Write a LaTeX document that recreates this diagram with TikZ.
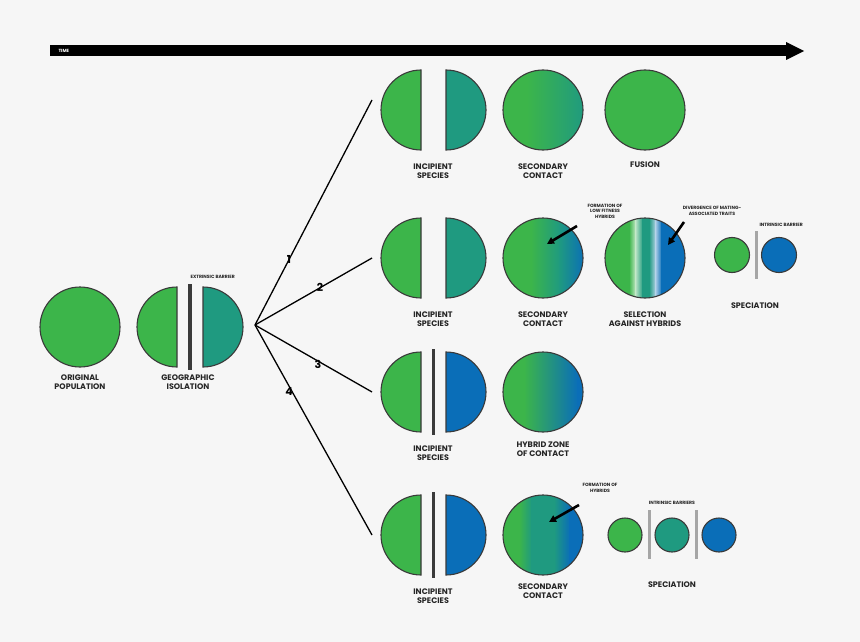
\documentclass[tikz,border=0pt]{standalone}
\usepackage{fontspec}
\setmainfont{Poppins}
\usetikzlibrary{arrows.meta}
\definecolor{gr}{HTML}{3CB54A}
\definecolor{te}{HTML}{1F9A80}
\definecolor{bl}{HTML}{0A6EB8}
\definecolor{ol}{HTML}{3A3A3A}
\definecolor{bg}{HTML}{F6F6F6}
\begin{document}
\begin{tikzpicture}[x=1pt,y=-1pt,
 lab/.style={font=\bfseries\fontsize{8}{9.5}\selectfont,align=center,text=black!85},
 sm/.style={font=\bfseries\fontsize{4.6}{5.6}\selectfont,align=center,text=black!85},
 num/.style={font=\bfseries\fontsize{11}{12}\selectfont},
 ring/.style={draw=ol,line width=1.1pt},
 bar/.style={line width=3.5pt,draw=ol},
 ibar/.style={line width=3pt,draw=black!35},
 br/.style={line width=1.3pt},
 pt/.style={-{Triangle[length=7pt,width=7pt]},line width=2.6pt}]
\fill[bg] (0,0) rectangle (860,642);
\useasboundingbox (0,0) rectangle (860,642);
% time arrow
\fill[black] (50,45) rectangle (790,56);
\fill[black] (786,42) -- (804,51) -- (786,60) -- cycle;
\node[font=\bfseries\fontsize{4.5}{5}\selectfont,text=white,anchor=west] (time) at (55,50.5) {TIME};
% original
\node[circle,minimum size=80pt,inner sep=0,fill=gr,ring] (orig) at (80,327) {};
\node[lab] (origl) at (80,382) {ORIGINAL\\POPULATION};
% geographic isolation
\draw[ring,fill=gr] (177,287) arc[start angle=-90,end angle=-270,radius=40] -- cycle;
\draw[ring,fill=te] (203,287) arc[start angle=-90,end angle=90,radius=40] -- cycle;
\draw[bar] (190,284) -- (190,370);
\node[sm,anchor=west] (extr) at (187,277) {EXTRINSIC BARRIER};
\node[lab] (geol) at (188,382) {GEOGRAPHIC\\ISOLATION};
% branches
\coordinate (b) at (255,325);
\coordinate (e1) at (372,100);
\coordinate (e2) at (372,258);
\coordinate (e3) at (372,392);
\coordinate (e4) at (372,535);
\draw[br] (b) -- (e1); \draw[br] (b) -- (e2); \draw[br] (b) -- (e3); \draw[br] (b) -- (e4);
\node[num] (n1) at (289,259) {1};
\node[num] (n2) at (320,287) {2};
\node[num] (n3) at (318,364) {3};
\node[num] (n4) at (289,392) {4};
% incipient species rows
\foreach \y/\c/\hb in {110/te/0,258/te/0,392/bl/1,535/bl/1}{
 \draw[ring,fill=gr] (421,\y-40) arc[start angle=-90,end angle=-270,radius=40] -- cycle;
 \draw[ring,fill=\c] (446,\y-40) arc[start angle=-90,end angle=90,radius=40] -- cycle;
 \ifnum\hb=1 \draw[bar] (433.5,\y-43) -- (433.5,\y+43); \fi
 \node[lab] at (433,\y+61) {INCIPIENT\\SPECIES};
}
% row 1
\begin{scope}\clip (543,110) circle (40);
 \fill[gr] (500,65) rectangle (528,155);
 \shade[left color=gr,right color=te] (527,65) rectangle (585,155);
\end{scope}
\draw[ring] (543,110) circle (40);
\node[lab] (sc1) at (543,171) {SECONDARY\\CONTACT};
\node[circle,minimum size=80pt,inner sep=0,fill=gr,ring] (fus) at (645,110) {};
\node[lab] (fusl) at (645,165) {FUSION};
% row 2
\begin{scope}\clip (543,258) circle (40);
 \fill[gr] (500,215) rectangle (532,300);
 \shade[left color=gr,right color=te] (531,215) rectangle (560,300);
 \shade[left color=te,right color=bl] (559,215) rectangle (585,300);
\end{scope}
\draw[ring] (543,258) circle (40);
\node[lab] (sc2) at (543,319) {SECONDARY\\CONTACT};
\begin{scope}\clip (645,258) circle (40);
 \fill[gr] (600,215) rectangle (630,300);
 \shade[left color=gr,right color=white!70!gr] (629,215) rectangle (636,300);
 \shade[left color=white!70!gr,right color=te] (635,215) rectangle (643,300);
 \fill[te] (642,215) rectangle (650,300);
 \shade[left color=te,right color=white!70!bl] (649,215) rectangle (656,300);
 \shade[left color=white!70!bl,right color=bl] (655,215) rectangle (662,300);
 \fill[bl] (661,215) rectangle (690,300);
\end{scope}
\draw[ring] (645,258) circle (40);
\node[lab] (sel) at (645,319) {SELECTION\\AGAINST HYBRIDS};
\node[sm] (lf) at (605,211) {FORMATION OF\\LOW FITNESS\\HYBRIDS};
\coordinate (a1) at (547,244);
\draw[pt] (577,226) -- (a1);
\node[sm] (dv) at (712,211) {DIVERGENCE OF MATING-\\ASSOCIATED TRAITS};
\coordinate (a2) at (668,245);
\draw[pt] (684,222) -- (a2);
\node[circle,minimum size=35pt,inner sep=0,fill=gr,ring] (s2g) at (732,255) {};
\node[circle,minimum size=35pt,inner sep=0,fill=bl,ring] (s2b) at (779,255) {};
\draw[ibar] (756,231) -- (756,279);
\node[sm,anchor=west] (ib) at (756,225) {INTRINSIC BARRIER};
\node[lab] (sp2) at (755,306) {SPECIATION};
% row 3
\begin{scope}\clip (543,392) circle (40);
 \fill[gr] (500,350) rectangle (525,435);
 \shade[left color=gr,right color=bl] (524,350) rectangle (578,435);
 \fill[bl] (577,350) rectangle (585,435);
\end{scope}
\draw[ring] (543,392) circle (40);
\node[lab] (hz) at (543,449) {HYBRID ZONE\\OF CONTACT};
% row 4
\begin{scope}\clip (543,535) circle (40);
 \fill[gr] (500,490) rectangle (520,580);
 \shade[left color=gr,right color=te] (519,490) rectangle (532,580);
 \fill[te] (531,490) rectangle (555,580);
 \shade[left color=te,right color=bl] (554,490) rectangle (570,580);
 \fill[bl] (569,490) rectangle (585,580);
\end{scope}
\draw[ring] (543,535) circle (40);
\node[lab] (sc4) at (543,591) {SECONDARY\\CONTACT};
\node[sm] (fh) at (600,488) {FORMATION OF\\HYBRIDS};
\coordinate (a4) at (549,522);
\draw[pt] (579,505) -- (a4);
\node[circle,minimum size=34pt,inner sep=0,fill=gr,ring] (s4g) at (625,535) {};
\node[circle,minimum size=34pt,inner sep=0,fill=te,ring] (s4t) at (672,535) {};
\node[circle,minimum size=34pt,inner sep=0,fill=bl,ring] (s4b) at (719,535) {};
\draw[ibar] (649,510) -- (649,559);
\draw[ibar] (696,510) -- (696,559);
\node[sm] (ibs) at (672,503) {INTRINSIC BARRIERS};
\node[lab] (sp4) at (672,585) {SPECIATION};
\end{tikzpicture}
\end{document}
